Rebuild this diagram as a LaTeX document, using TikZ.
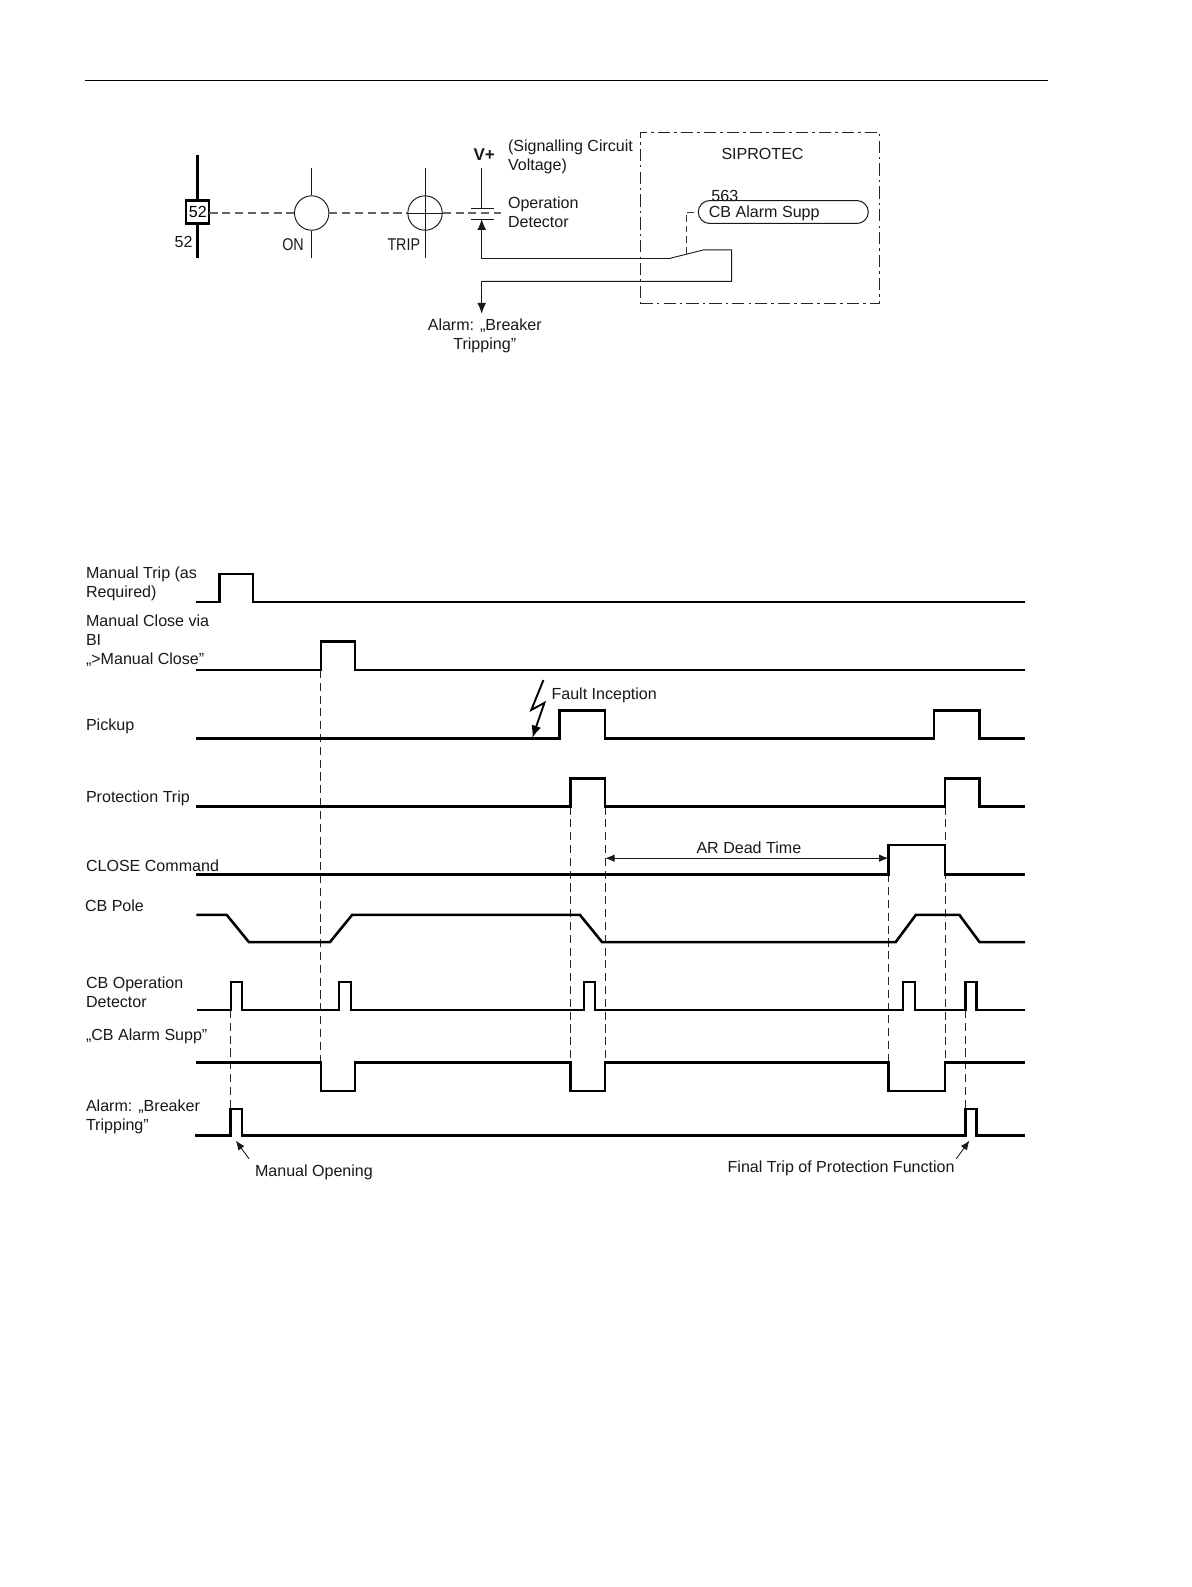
\documentclass[tikz,border=0pt]{standalone}
\usepackage{fontspec}
\setmainfont{Liberation Sans}
\usetikzlibrary{arrows.meta}
\tikzset{
  lbl/.style={inner sep=0pt,outer sep=0pt,yshift=-1.1pt,font=\fontsize{11.9pt}{14pt}\selectfont,text=black!90,align=left,anchor=west},
  lblc/.style={lbl,align=center,anchor=center},
  wave/.style={draw=black,line width=1.9pt,line join=miter},
  thinwave/.style={draw=black,line width=1.6pt},
  guide/.style={draw=black!85,line width=0.65pt,dash pattern=on 6pt off 3.5pt},
  wire/.style={draw=black!90,line width=0.7pt},
  tipwire/.style={wire,-{Latex[length=8pt,width=6.5pt]}},
  note/.style={draw=black!90,line width=0.65pt,-{Latex[length=7pt,width=5.5pt]}},
  mech/.style={draw=black!60,line width=1pt,dash pattern=on 6pt off 3.5pt}
}
\begin{document}
\begin{tikzpicture}[x=0.75pt,y=-0.75pt]
\useasboundingbox (0,0) rectangle (1177,1568.2);
\fill[white] (0,0) rectangle (1177,1568.2);
% header
\coordinate (hl) at (84,79); \coordinate (hr) at (1036,79);
\draw[black,line width=0.65pt] (hl) -- (hr);
% --- circuit
\draw[black,line width=1.9pt] (195,153) -- (195,198);
\draw[black,line width=1.9pt] (195,221) -- (195,255);
\node[draw=black,line width=1.6pt,minimum width=17pt,minimum height=17pt,inner sep=0pt,font=\fontsize{11.9pt}{14pt}\selectfont] (brk) at (195.5,209.5) {52};
\node[lblc] (brklbl) at (181.5,237.5) {52};
\node[draw=black!90,line width=0.7pt,circle,minimum size=25.5pt,inner sep=0pt] (on) at (308,210.5) {};
\node[draw=black!90,line width=0.7pt,circle,minimum size=25.5pt,inner sep=0pt] (trip) at (420,210.5) {};
\coordinate (ont) at (308,166); \coordinate (onb) at (308,255);
\coordinate (trt) at (420,166); \coordinate (trb) at (420,255);
\draw[wire] (ont) -- (on.north); \draw[wire] (on.south) -- (onb);
\draw[wire] (trt) -- (trb);
\draw[wire] (trip.west) -- (trip.east);
\node[lblc,font=\fontsize{12.6pt}{14pt}\selectfont,xscale=.84] (onl) at (289.5,240) {ON};
\node[lblc,font=\fontsize{12.6pt}{14pt}\selectfont,xscale=.84] (trl) at (399,240) {TRIP};
\coordinate (mechend) at (495,210.5);
\coordinate (brkr) at (207,210.5);
\draw[mech] (brkr) -- (on.west);
\draw[mech] (on.east) -- (trip.west);
\draw[mech] (trip.east) -- (mechend);
% operation detector
\coordinate (vt) at (476,166); \coordinate (ct) at (476,206); \coordinate (cb) at (476,216.5);
\draw[wire] (vt) -- (ct);
\draw[wire] (465,206) -- (488,206);
\draw[wire] (465,216.5) -- (488,216.5);
\node[lblc,font=\bfseries\fontsize{12.6pt}{14pt}\selectfont] (vp) at (478.5,151) {V+};
\node[lbl] (sig) at (502,153.5) {(Signalling Circuit\\Voltage)};
\node[lbl] (opd) at (502,208.5) {Operation\\Detector};
% contact loop
\coordinate (c1) at (476,255); \coordinate (c2) at (663,255); \coordinate (c3) at (695,247);
\coordinate (c4) at (723,247); \coordinate (c5) at (723,278); \coordinate (c6) at (476,278);
\coordinate (c7) at (476,310);
\draw[tipwire] (c2) -- (c1) -- (cb);
\draw[wire] (c2) -- (c3) -- (c4) -- (c5) -- (c6);
\draw[tipwire] (c6) -- (c7);
\node[lblc] (alarm) at (479,330.5) {Alarm: „Breaker\\Tripping”};
% siprotec
\node[draw=black!85,line width=0.75pt,dash pattern=on 9pt off 3pt on 2pt off 3pt,minimum width=177pt,minimum height=127pt,inner sep=0pt] (sip) at (751,215.5) {};
\node[lblc] (siplbl) at (753.5,150.5) {SIPROTEC};
\node[draw=black!90,line width=0.75pt,rounded corners=8.5pt,minimum width=126pt,minimum height=17pt,inner sep=0pt] (pill) at (774,209.5) {};
\node[lbl] (pilltxt) at (700.5,209.5) {CB Alarm Supp};
\node[lbl] (n563) at (703,192) {563};
\coordinate (sw) at (678,251); \coordinate (swt) at (678,209.5);
\draw[draw=black!80,line width=0.65pt,dash pattern=on 5pt off 3pt] (sw) -- (swt) -- (pill.west);
% --- labels of timing
\node[lbl] at (85,575.5) {Manual Trip (as\\Required)};
\node[lbl] at (85,632) {Manual Close via\\BI\\„>Manual Close”};
\node[lbl] at (85,716) {Pickup};
\node[lbl] at (85,787) {Protection Trip};
\node[lbl] at (85,854) {CLOSE Command};
\node[lbl] at (84,894) {CB Pole};
\node[lbl] at (85,979) {CB Operation\\Detector};
\node[lbl] at (85,1022.5) {„CB Alarm Supp”};
\node[lbl] at (85,1102.5) {Alarm: „Breaker\\Tripping”};
\node[lbl] (fi) at (545,686) {Fault Inception};
\node[lblc] (ar) at (740,836.5) {AR Dead Time};
\node[lbl] (mo) at (252,1157) {Manual Opening};
\node[lbl] (ft) at (719,1153.5) {Final Trip of Protection Function};
% guide anchors
\foreach \n/\x/\yt/\yb in {g1/228/998/1096, g2/317/662/1050, g3/564/797/1050, g4/598/797/1050, g5/878/864/1050, g6/934/797/1050, g7/954/998/1096}{
  \coordinate (\n t) at (\x,\yt); \coordinate (\n b) at (\x,\yb);
  \draw[guide] (\n t) -- (\n b);
}
% waves
\path[wave] (194,595) -- (217,595) -- (217,567) -- (250,567) -- (250,595) -- (1013,595);
\path[wave] (194,662) -- (317,662) -- (317,634) -- (351,634) -- (351,662) -- (1013,662);
\path[wave] (194,730) -- (553,730) -- (553,702) -- (598,702) -- (598,730) -- (923,730) -- (923,702) -- (968,702) -- (968,730) -- (1013,730);
\path[wave] (194,797) -- (564,797) -- (564,769) -- (598,769) -- (598,797) -- (934,797) -- (934,769) -- (968,769) -- (968,797) -- (1013,797);
\path[wave] (194,864) -- (878,864) -- (878,835) -- (934,835) -- (934,864) -- (1013,864);
\path[wave] (194,904) -- (224,904) -- (246,931) -- (326,931) -- (348,904) -- (573,904) -- (595,931) -- (885,931) -- (905,904) -- (948,904) -- (968,931) -- (1013,931);
\path[thinwave] (195,998) -- (228,998) -- (228,970) -- (239,970) -- (239,998) -- (335,998) -- (335,970) -- (347,970) -- (347,998) -- (577,998) -- (577,970) -- (588,970) -- (588,998) -- (892,998) -- (892,970) -- (904,970) -- (904,998) -- (954,998) -- (954,970) -- (965,970) -- (965,998) -- (1013,998);
\path[wave] (194,1050) -- (317,1050) -- (317,1078) -- (351,1078) -- (351,1050) -- (564,1050) -- (564,1078) -- (598,1078) -- (598,1050) -- (878,1050) -- (878,1078) -- (934,1078) -- (934,1050) -- (1013,1050);
\path[wave] (193,1122) -- (228,1122) -- (228,1096) -- (239,1096) -- (239,1122) -- (954,1122) -- (954,1096) -- (965,1096) -- (965,1122) -- (1013,1122);
% lightning
\draw[black,line width=1.4pt,-{Latex[length=9pt,width=7.5pt]}] (537,672) -- (525,701.5) -- (538,694.5) -- (526,729);
% AR arrow
\coordinate (ar1) at (598,848); \coordinate (ar2) at (878,848);
\draw[draw=black!90,line width=0.65pt,{Latex[length=7pt,width=5.5pt]}-{Latex[length=7pt,width=5.5pt]}] (ar1) -- (ar2);
% annotations
\coordinate (mos) at (246,1145); \coordinate (mot) at (233,1127);
\coordinate (fts) at (945,1145); \coordinate (ftt) at (958,1127);
\draw[note] (mos) -- (mot);
\draw[note] (fts) -- (ftt);
\end{tikzpicture}
\end{document}
